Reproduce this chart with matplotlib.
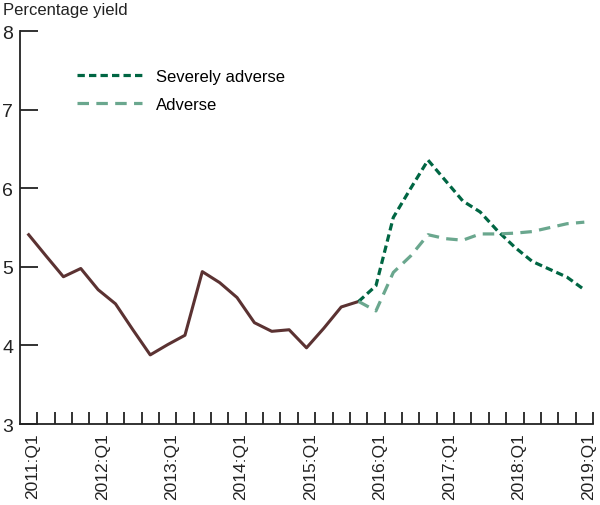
import numpy as np
import matplotlib
matplotlib.use('Agg')
import matplotlib.pyplot as plt
import matplotlib.transforms as mtransforms

# ----------------------------------------------------------------------------------------------------------------------
# data
quarters = ['%d:Q%d' % (y, q) for y in range(2011, 2020) for q in range(1, 5)][:33]
tick_labels = ['2011:Q1', '2012:Q1', '2013:Q1', '2014:Q1', '2015:Q1',
               '2016:Q1', '2017:Q1', '2018:Q1', '2019:Q1']

# historical 2011:Q1 - 2015:Q4
baseline = [5.41, 5.14, 4.875, 4.98, 4.71, 4.53, 4.20, 3.88, 4.01, 4.13,
            4.94, 4.80, 4.61, 4.29, 4.18, 4.20, 3.97, 4.22, 4.49, 4.56]
# scenarios 2015:Q4 - 2019:Q1
severely_adverse = [4.56, 4.76, 5.63, 6.00, 6.36, 6.10, 5.84, 5.70, 5.46,
                    5.25, 5.07, 4.97, 4.87, 4.71]
adverse = [4.56, 4.44, 4.93, 5.14, 5.41, 5.36, 5.34, 5.42, 5.42,
           5.43, 5.45, 5.50, 5.55, 5.57]
# ----------------------------------------------------------------------------------------------------------------------

plt.rcParams['font.family'] = ['Liberation Sans Narrow', 'Liberation Sans', 'DejaVu Sans']

col_base = '#5b3232'
col_sev = '#006643'
col_adv = '#6aa78e'
col_axis = '#222222'

fig = plt.figure(figsize=(6.0, 5.06), dpi=100)
ax = fig.add_axes([20 / 600, 1 - 425 / 506, 573 / 600, (425 - 32.3) / 506])

x_base = np.arange(len(baseline))
x_scen = np.arange(len(baseline) - 1, len(baseline) - 1 + len(severely_adverse))

ax.plot(x_base, baseline, color=col_base, lw=2.2)
ax.plot(x_scen, severely_adverse, color=col_sev, lw=2.3, ls=(0, (2.3, 1.3)), label='Severely adverse')
ax.plot(x_scen, adverse, color=col_adv, lw=2.3, ls=(0, (3.6, 2.3)), label='Adverse')

ax.set_xlim(-0.5, len(quarters) - 0.5)
ax.set_ylim(3, 8)

# y axis
ax.set_yticks([3, 4, 5, 6, 7, 8])
ax.tick_params(axis='y', direction='in', length=13, width=1.3, labelsize=14, pad=5, colors=col_axis)

# x axis: ticks at category boundaries, labels at category centres
ax.set_xticks(np.arange(len(quarters)) + 0.5)
ax.set_xticklabels([])
ax.tick_params(axis='x', which='major', direction='in', length=9, width=1.3, colors=col_axis)
ax.set_xticks([quarters.index(t) for t in tick_labels], minor=True)
ax.set_xticklabels(tick_labels, minor=True, rotation=90, fontsize=12.5)
ax.tick_params(axis='x', which='minor', length=0, pad=6, colors=col_axis)
shift = mtransforms.ScaledTranslation(4 / 100, 0, fig.dpi_scale_trans)
for lbl in ax.get_xticklabels(minor=True):
    lbl.set_transform(lbl.get_transform() + shift)

for side in ['top', 'right']:
    ax.spines[side].set_visible(False)
for side in ['left', 'bottom']:
    ax.spines[side].set_linewidth(1.3)
    ax.spines[side].set_color(col_axis)

fig.text(3 / 600, 1 - 3 / 506, 'Percentage yield', ha='left', va='top', fontsize=12, color=col_axis)

ax.legend(loc='upper left', bbox_to_anchor=(0.088, 0.922), frameon=False, fontsize=12,
          handlelength=3.9, handletextpad=0.84, labelspacing=0.8, borderaxespad=0)

fig.savefig('out.png', dpi=100)
